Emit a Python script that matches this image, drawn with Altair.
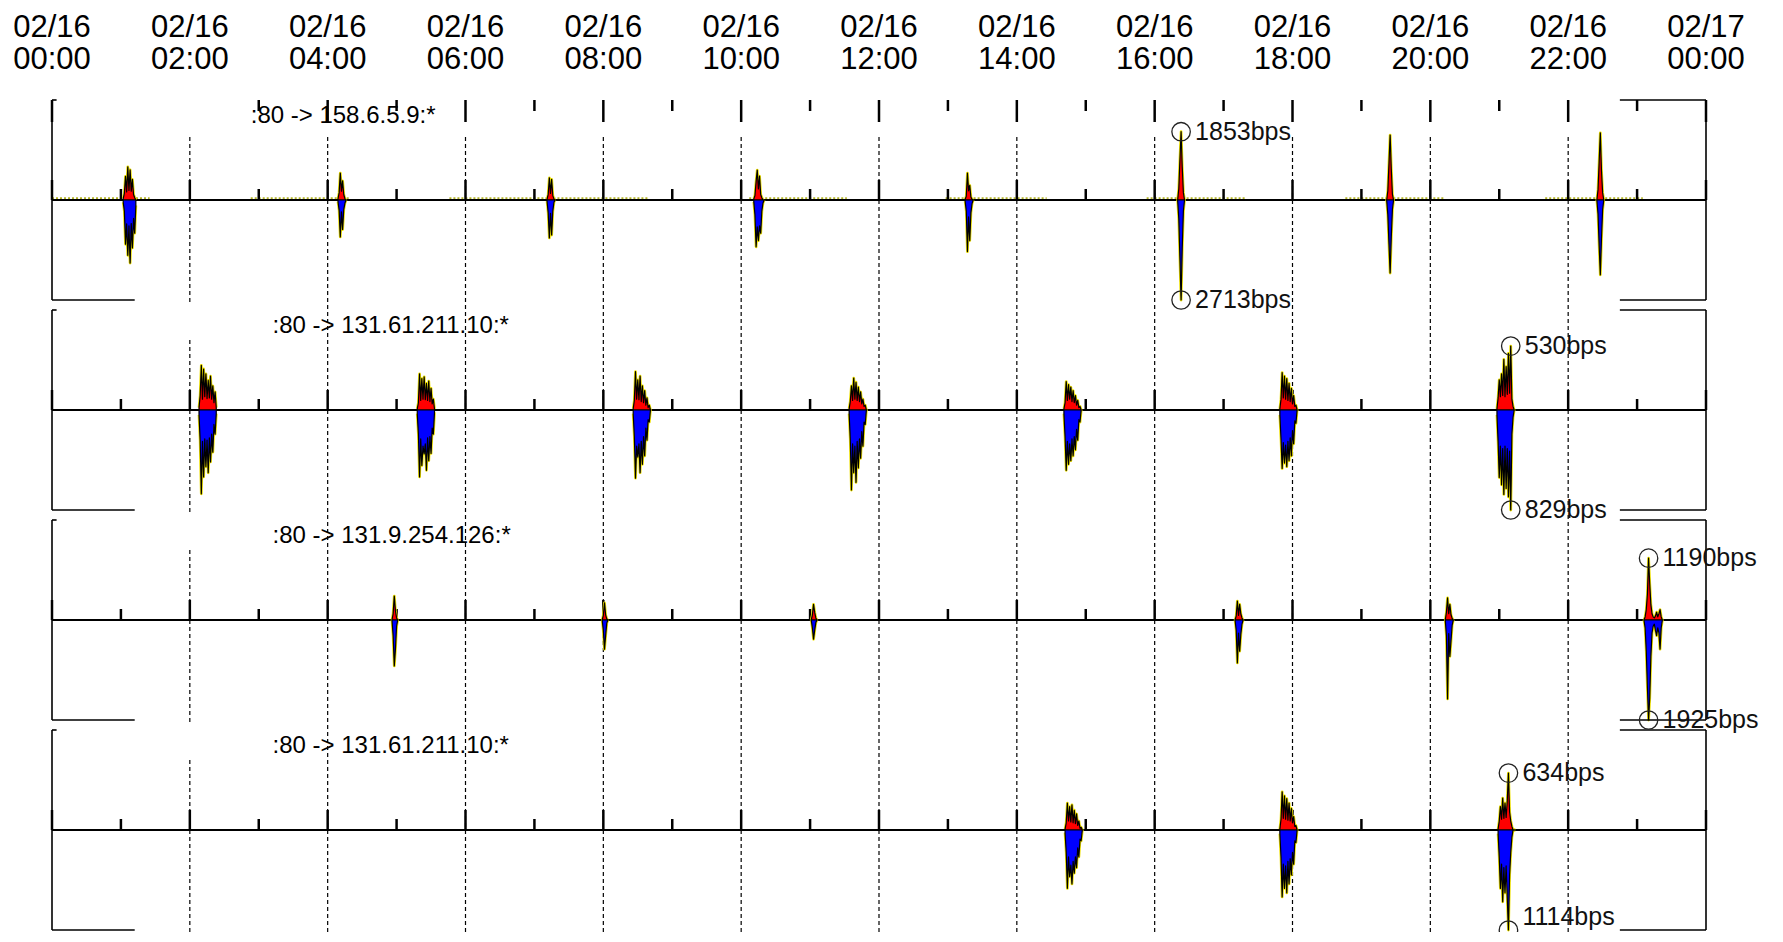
import altair as alt
import pandas as pd

# ---------------- data ----------------
label_hours = [0, 2, 4, 6, 8, 10, 12, 14, 16, 18, 20, 22, 24]
label_dates = ["02/16"] * 12 + ["02/17"]
label_times = ["00:00", "02:00", "04:00", "06:00", "08:00", "10:00",
               "12:00", "14:00", "16:00", "18:00", "20:00", "22:00", "00:00"]
hour_ticks = list(range(0, 25))
top_tick_hours = [0] + list(range(3, 25))
grid_hours = list(range(2, 23, 2))

panel_titles = [":80 -> 158.6.5.9:*", ":80 -> 131.61.211.10:*",
                ":80 -> 131.9.254.126:*", ":80 -> 131.61.211.10:*"]
title_minutes = [173, 192, 192, 192]

# bursts: start minute, then bps per minute (up = drawn above, down = drawn below)
p1_start = [62, 249, 431, 611, 795, 980, 1162, 1345]
p1_up = [
    [40, 180, 640, 220, 900, 260, 820, 240, 560, 150, 60, 0],
    [30, 200, 730, 240, 520, 150, 40, 0],
    [20, 150, 600, 180, 560, 120, 30, 0],
    [30, 120, 500, 810, 300, 650, 150, 60, 0, 0],
    [20, 100, 730, 250, 400, 80, 20, 0],
    [0, 300, 1100, 1853, 900, 200, 0],
    [0, 250, 1000, 1760, 850, 150, 0],
    [0, 280, 1050, 1820, 800, 200, 0],
]
p1_down = [
    [60, 300, 1200, 650, 1500, 700, 1710, 640, 1300, 500, 900, 150],
    [40, 280, 1000, 320, 800, 260, 90, 0],
    [30, 350, 1030, 360, 950, 300, 60, 0],
    [50, 400, 1270, 730, 1100, 700, 900, 300, 80, 0],
    [30, 300, 1400, 460, 1100, 350, 100, 0],
    [0, 500, 1600, 2713, 1300, 300, 0],
    [0, 400, 1200, 1980, 1000, 250, 0],
    [0, 380, 1250, 2030, 1050, 260, 0],
]
p1_idle = [[0, 85], [173, 259], [346, 520], [607, 692], [778, 866],
           [953, 1039], [1126, 1212], [1300, 1385]]
idle_bps = 50

p2_start = [128, 318, 506, 694, 881, 1069, 1258]
p2_up = [
    [20, 120, 370, 90, 340, 110, 300, 95, 245, 100, 280, 90, 200, 60, 150, 20],
    [10, 60, 300, 80, 260, 90, 275, 85, 220, 80, 240, 70, 180, 50, 90, 10],
    [10, 80, 318, 90, 250, 85, 280, 70, 200, 60, 160, 40, 100, 20, 40, 0],
    [10, 70, 200, 80, 265, 90, 230, 80, 190, 70, 150, 50, 90, 30, 40, 0],
    [10, 60, 235, 80, 210, 90, 190, 70, 160, 60, 120, 40, 80, 20, 30, 0],
    [10, 90, 310, 100, 280, 90, 260, 80, 220, 70, 180, 50, 120, 30, 40, 0],
    [10, 100, 250, 110, 300, 120, 420, 110, 360, 130, 470, 140, 530, 90, 30, 0],
]
p2_down = [
    [40, 250, 695, 260, 555, 240, 470, 250, 520, 230, 430, 200, 350, 120, 200, 30],
    [30, 200, 555, 240, 460, 300, 365, 280, 500, 230, 420, 220, 360, 150, 200, 20],
    [30, 220, 565, 300, 390, 280, 520, 260, 450, 220, 380, 150, 250, 80, 100, 0],
    [30, 240, 663, 280, 520, 300, 600, 260, 480, 240, 400, 180, 300, 100, 120, 0],
    [30, 220, 500, 260, 450, 280, 420, 240, 380, 220, 330, 160, 250, 80, 100, 0],
    [40, 240, 485, 270, 440, 290, 470, 260, 420, 230, 380, 170, 280, 90, 110, 0],
    [40, 260, 560, 300, 620, 320, 700, 300, 650, 320, 720, 340, 829, 200, 60, 0],
]

p3_start = [296, 479, 661, 1030, 1213, 1386]
p3_up = [
    [0, 120, 460, 180, 40, 0],
    [0, 90, 330, 100, 20, 0],
    [0, 100, 300, 150, 40, 0],
    [0, 80, 365, 90, 300, 120, 40, 0],
    [0, 150, 425, 120, 300, 100, 30, 0],
    [0, 60, 200, 500, 1190, 700, 300, 120, 60, 40, 80, 150, 60, 120, 200, 60, 0],
]
p3_down = [
    [0, 300, 885, 560, 120, 0],
    [0, 200, 560, 300, 60, 0],
    [0, 150, 370, 200, 50, 0],
    [0, 200, 825, 250, 600, 280, 80, 0],
    [0, 300, 1520, 260, 700, 400, 100, 0],
    [0, 150, 600, 1300, 1925, 1500, 700, 250, 120, 80, 200, 300, 150, 250, 560, 150, 0],
]

p4_start = [882, 1069, 1259]
p4_up = [
    [10, 80, 300, 100, 260, 90, 280, 80, 220, 70, 180, 50, 100, 20, 30, 0],
    [10, 120, 425, 130, 380, 120, 350, 110, 300, 100, 240, 80, 150, 40, 50, 0],
    [10, 100, 260, 120, 355, 130, 300, 140, 330, 634, 200, 100, 40, 0, 0, 0],
]
p4_down = [
    [30, 250, 650, 300, 520, 390, 600, 350, 480, 300, 420, 200, 300, 100, 120, 0],
    [40, 300, 745, 380, 650, 400, 700, 350, 600, 320, 500, 250, 380, 120, 140, 0],
    [40, 300, 650, 380, 800, 420, 700, 400, 760, 1114, 500, 250, 80, 0, 0, 0],
]

panels = [(p1_start, p1_up, p1_down), (p2_start, p2_up, p2_down),
          (p3_start, p3_up, p3_down), (p4_start, p4_up, p4_down)]

# ---------------- layout constants ----------------
SP = 2.1                 # distance between panel centres (in panel half-heights)
Y_DOMAIN = [-7.32, 1.0]
W, H = 1654, 832
FONT = "Liberation Sans"

# ---------------- tables ----------------
burst_rows, peak_rows, panel_max = [], [], []
for p, (starts, ups, downs) in enumerate(panels):
    mx = max(max(max(u), max(d)) for u, d in zip(ups, downs))
    panel_max.append(mx)
    for b, (s, u, d) in enumerate(zip(starts, ups, downs)):
        for k, v in enumerate(u):
            burst_rows.append(dict(p=p, g=f"{p}_{b}_u", dir="up", m=s + k, bps=v, mx=mx))
        for k, v in enumerate(d):
            burst_rows.append(dict(p=p, g=f"{p}_{b}_d", dir="down", m=s + k, bps=-v, mx=mx))
    for sign, series in ((1, ups), (-1, downs)):
        bm, bv = max(((s + k, v) for s, vals in zip(starts, series)
                      for k, v in enumerate(vals)), key=lambda t: t[1])
        peak_rows.append(dict(p=p, m=bm, bps=sign * bv, mx=mx, label=f"{bv}bps"))
bursts = pd.DataFrame(burst_rows)
peaks = pd.DataFrame(peak_rows)

idle = pd.DataFrame([dict(p=0, m=a, m2=b, bps=idle_bps, mx=panel_max[0]) for a, b in p1_idle])

grid = pd.DataFrame({"m": [h * 60 for h in grid_hours]})
time_labels = pd.DataFrame({"m": [h * 60 for h in label_hours],
                            "date": label_dates, "time": label_times})

tick_rows = []
for p in range(4):
    for h in hour_ticks:
        tick_rows.append(dict(p=p, m=h * 60, f=0.0, f2=0.2 if h % 2 == 0 else 0.11))
for h in top_tick_hours:
    tick_rows.append(dict(p=0, m=h * 60, f=1.0, f2=0.78 if h % 2 == 0 else 0.89))
ticks = pd.DataFrame(tick_rows)

frame_rows = []
for p in range(4):
    for (a, b, f0, f1) in [(0, 0, -1, 1), (0, 72, -1, -1), (0, 4, 1, 1),
                           (1440, 1440, -1, 1), (1365, 1440, 1, 1), (1365, 1440, -1, -1)]:
        frame_rows.append(dict(p=p, m=a, m2=b, f=f0, f2=f1))
frame = pd.DataFrame(frame_rows)

centre = pd.DataFrame([dict(p=p, m=0, m2=1440, f=0.0, f2=0.0) for p in range(4)])
masks = pd.DataFrame([dict(p=p, m=2, m2=150, f=1.08, f2=0.7) for p in range(1, 4)])
titles = pd.DataFrame([dict(p=p, m=title_minutes[p], text=t, f=0.84) for p, t in enumerate(panel_titles)])

# ---------------- encodings ----------------
xs = alt.Scale(domain=[0, 1440], nice=False, zero=False)
ys = alt.Scale(domain=Y_DOMAIN, nice=False, zero=False)
Xm = alt.X("m:Q", scale=xs, axis=None)
Yn = alt.Y("yn:Q", scale=ys, axis=None)
calc_val = dict(yn=f"-{SP}*datum.p + datum.bps/datum.mx", y0=f"-{SP}*datum.p")
calc_frac = dict(yn=f"-{SP}*datum.p + datum.f", yn2=f"-{SP}*datum.p + datum.f2")
# keep peak labels inside the picture
calc_label = dict(yn=f"max(-{SP}*datum.p + datum.bps/datum.mx, {Y_DOMAIN[0] + 0.15})")

dashed = alt.Chart(grid).mark_rule(color="black", strokeWidth=1.2, strokeDash=[4, 3]).encode(
    x=Xm, y=alt.datum(0.63, scale=ys, axis=None), y2=alt.datum(Y_DOMAIN[0]))

# time labels above the first panel (two lines)
date_l = alt.Chart(time_labels).mark_text(font=FONT, fontSize=31, align="center", baseline="alphabetic",
                                          color="black").encode(
    x=Xm, y=alt.datum(1.635, scale=ys, axis=None), text="date:N")
time_l = alt.Chart(time_labels).mark_text(font=FONT, fontSize=31, align="center", baseline="alphabetic",
                                          color="black").encode(
    x=Xm, y=alt.datum(1.315, scale=ys, axis=None), text="time:N")

mask = alt.Chart(masks).mark_rect(color="white").transform_calculate(**calc_frac).encode(
    x=Xm, x2="m2:Q", y=Yn, y2="yn2:Q")

idle_l = alt.Chart(idle).mark_rule(color="#b4b428", strokeWidth=2, strokeDash=[2, 2]).transform_calculate(
    **calc_val).encode(x=Xm, x2="m2:Q", y=Yn)

centre_l = alt.Chart(centre).mark_rule(color="black", strokeWidth=2).transform_calculate(**calc_frac).encode(
    x=Xm, x2="m2:Q", y=Yn)

tick_l = alt.Chart(ticks).mark_rule(color="black", strokeWidth=2.5).transform_calculate(**calc_frac).encode(
    x=Xm, y=Yn, y2="yn2:Q")

glow = alt.Chart(bursts).mark_line(color="#eee000", strokeWidth=2.8, strokeJoin="round").transform_calculate(
    **calc_val).encode(x=Xm, y=Yn, detail="g:N")

area = alt.Chart(bursts).mark_area(stroke="black", strokeWidth=1.2, strokeJoin="round", opacity=1).transform_calculate(
    **calc_val).encode(
    x=Xm, y=Yn, y2="y0:Q", detail="g:N",
    color=alt.Color("dir:N", scale=alt.Scale(domain=["up", "down"], range=["#ff0000", "#0000ff"]), legend=None))

frame_l = alt.Chart(frame).mark_rule(color="black", strokeWidth=1.6).transform_calculate(**calc_frac).encode(
    x=Xm, x2="m2:Q", y=Yn, y2="yn2:Q")

title_l = alt.Chart(titles).mark_text(font=FONT, fontSize=24, align="left", baseline="middle",
                                      color="black").transform_calculate(**calc_frac).encode(
    x=Xm, y=Yn, text="text:N")

peak_c = alt.Chart(peaks).mark_point(shape="circle", filled=False, size=340, color="#222",
                                     strokeWidth=1.3, opacity=1).transform_calculate(**calc_val).encode(x=Xm, y=Yn)
peak_t = alt.Chart(peaks).mark_text(font=FONT, fontSize=25, align="left", baseline="middle", dx=14,
                                    color="#111").transform_calculate(**calc_label).encode(
    x=Xm, y=Yn, text="label:N")

chart = alt.layer(dashed, mask, idle_l, centre_l, tick_l, glow, area, frame_l, title_l,
                  peak_c, peak_t, date_l, time_l).properties(
    width=W, height=H,
    autosize=alt.AutoSizeParams(type="none"),
    padding={"left": 44, "top": 92, "right": 62, "bottom": 0},
    background="white",
).configure_view(stroke=None)

chart.save("out.html", embed_options={"renderer": "svg", "actions": False})
